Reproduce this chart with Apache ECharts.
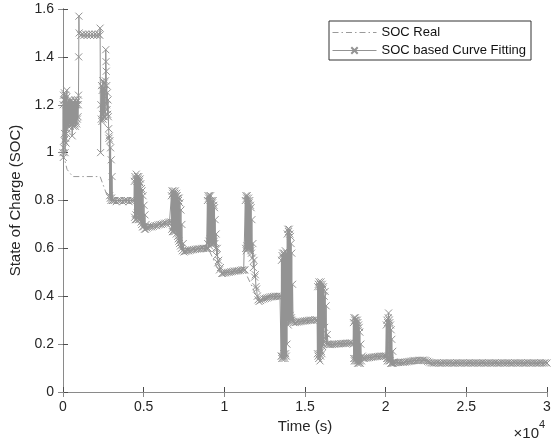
<!DOCTYPE html>
<html>
<head>
<meta charset="utf-8">
<script src="https://cdn.jsdelivr.net/npm/echarts@6/dist/echarts.min.js"></script>
<style>
  html, body { margin: 0; padding: 0; background: #fff; }
  #chart { width: 558px; height: 446px; }
</style>
</head>
<body>
<div id="chart"></div>
<script>
// time (s), SOC
var realCurve = [[0,1.0],[250,0.93],[600,0.9],[2300,0.9],[2600,0.845],[2850,0.8],[4500,0.8],[4900,0.7],[6800,0.7],[7400,0.6],
	[9000,0.6],[9700,0.5],[11300,0.5],[12000,0.4],[13500,0.4],[14300,0.3],[15800,0.3],[16400,0.2],[18000,0.2],[18600,0.15],
	[20100,0.15],[20500,0.12],[30000,0.12]];

// first charge part, up to the 0.8 step
var fitRise = [[0,1.00],[10,1.20],[20,0.98],[30,1.24],[40,1.02],[55,1.22],[70,1.05],[85,1.25],[100,1.08],[115,1.22],[130,1.00],
	[145,1.24],[160,1.06],[175,1.20],[190,1.04],[205,1.23],[220,1.08],[235,1.26],[250,1.10],[270,1.21],[290,1.12],[310,1.20],
	[330,1.11],[350,1.22],[370,1.13],[390,1.19],[410,1.12],[430,1.21],[450,1.11],[470,1.20],[490,1.13],[510,1.22],[530,1.12],
	[550,1.20],[570,1.07],[590,1.21],[610,1.12],[630,1.19],[650,1.11],[670,1.21],[690,1.13],[710,1.20],[730,1.12],[750,1.22],
	[770,1.11],[790,1.20],[810,1.13],[830,1.21],[850,1.12],[870,1.20],[890,1.14],[910,1.22],[930,1.15],[950,1.20],[960,1.24],
	[975,1.40],[985,1.57],[1000,1.50],[1100,1.49],[1200,1.495],[1300,1.49],[1400,1.495],[1500,1.49],[1600,1.495],[1700,1.49],
	[1800,1.495],[1900,1.49],[2000,1.495],[2100,1.49],[2200,1.495],[2280,1.49],[2300,1.52],[2330,1.00],[2350,1.20],[2370,1.14],
	[2390,1.28],[2410,1.13],[2430,1.26],[2450,1.16],[2470,1.30],[2490,1.14],[2510,1.27],[2530,1.15],[2550,1.29],[2570,1.17],
	[2590,1.26],[2610,1.15],[2630,1.30],[2650,1.43],[2665,1.38],[2680,1.34],[2695,1.20],[2710,1.28],[2730,1.18],[2750,1.25],
	[2770,1.16],[2790,1.22],[2810,1.15],[2830,1.10],[2850,1.06],[2870,1.07],[2890,0.82],[2910,1.05],[2930,0.81],[2950,1.02],
	[2970,0.80],[2990,0.97],[3010,0.81],[3040,0.90],[3070,0.80],[3100,0.80]];

// 0.8 -> 0.5 steps
var fitSteps1 = [[3200,0.80],[3300,0.795],[3400,0.80],[3500,0.80],[3600,0.80],[3700,0.795],[3800,0.80],[3900,0.80],[4000,0.80],
	[4100,0.795],[4200,0.80],[4300,0.80],[4400,0.80],[4420,0.88],[4440,0.73],[4460,0.90],[4480,0.72],[4500,0.89],[4520,0.74],
	[4540,0.91],[4560,0.72],[4580,0.88],[4600,0.75],[4620,0.90],[4640,0.73],[4660,0.89],[4680,0.72],[4700,0.90],[4720,0.74],
	[4740,0.88],[4760,0.72],[4780,0.89],[4800,0.73],[4820,0.87],[4840,0.71],[4860,0.85],[4880,0.70],[4900,0.84],[4930,0.69],
	[4960,0.82],[4990,0.69],[5020,0.78],[5050,0.68],[5080,0.74],[5110,0.68],[5150,0.70],[5200,0.685],[5300,0.688],[5400,0.69],
	[5500,0.69],[5600,0.692],[5700,0.695],[5800,0.695],[5900,0.698],[6000,0.70],[6100,0.70],[6200,0.702],[6300,0.705],
	[6400,0.705],[6500,0.708],[6600,0.71],[6700,0.71],[6720,0.82],[6740,0.68],[6760,0.84],[6780,0.67],[6800,0.83],[6820,0.69],
	[6840,0.84],[6860,0.67],[6880,0.82],[6900,0.68],[6920,0.83],[6940,0.67],[6960,0.84],[6980,0.69],[7000,0.82],[7020,0.66],
	[7040,0.83],[7060,0.68],[7080,0.82],[7100,0.65],[7120,0.81],[7140,0.64],[7160,0.80],[7180,0.63],[7200,0.81],[7220,0.62],
	[7250,0.79],[7280,0.61],[7310,0.76],[7340,0.60],[7370,0.70],[7400,0.59],[7450,0.62],[7500,0.585],[7560,0.59],[7600,0.588],
	[7700,0.59],[7800,0.59],[7900,0.592],[8000,0.594],[8100,0.595],[8200,0.596],[8300,0.597],[8400,0.598],[8500,0.598],
	[8600,0.60],[8700,0.60],[8800,0.60],[8900,0.60],[8930,0.60],[8950,0.80],[8970,0.62],[8990,0.82],[9010,0.60],[9030,0.81],
	[9050,0.63],[9070,0.82],[9090,0.61],[9110,0.80],[9130,0.64],[9150,0.82],[9170,0.62],[9190,0.79],[9210,0.63],[9230,0.80],
	[9250,0.62],[9270,0.79],[9290,0.64],[9310,0.80],[9330,0.62],[9350,0.78],[9370,0.63],[9390,0.77],[9410,0.62],[9430,0.72],
	[9460,0.60],[9490,0.66],[9520,0.57],[9560,0.60],[9600,0.54],[9650,0.55],[9700,0.51],[9760,0.52],[9840,0.495]];

// 0.5 -> 0.2 steps
var fitSteps2 = [[9900,0.495],[10000,0.497],[10100,0.498],[10200,0.50],[10300,0.50],[10400,0.502],[10500,0.503],[10600,0.505],
	[10700,0.505],[10800,0.506],[10900,0.507],[11000,0.508],[11100,0.51],[11200,0.51],[11280,0.51],[11300,0.80],[11320,0.60],
	[11340,0.82],[11360,0.59],[11380,0.81],[11400,0.61],[11420,0.82],[11440,0.60],[11460,0.80],[11480,0.62],[11500,0.81],
	[11520,0.60],[11540,0.79],[11560,0.61],[11580,0.80],[11600,0.60],[11620,0.78],[11640,0.59],[11660,0.77],[11680,0.58],
	[11710,0.72],[11740,0.56],[11770,0.62],[11800,0.52],[11840,0.55],[11880,0.48],[11920,0.49],[11960,0.44],[12000,0.43],
	[12040,0.40],[12090,0.385],[12150,0.378],[12250,0.382],[12350,0.386],[12450,0.389],[12550,0.391],[12650,0.393],
	[12750,0.395],[12850,0.397],[12950,0.398],[13050,0.399],[13150,0.40],[13250,0.40],[13350,0.40],[13450,0.40],[13500,0.40],
	[13520,0.15],[13540,0.55],[13560,0.14],[13580,0.57],[13600,0.15],[13620,0.58],[13640,0.14],[13660,0.56],[13680,0.16],
	[13700,0.58],[13720,0.15],[13740,0.57],[13760,0.14],[13780,0.59],[13800,0.16],[13820,0.56],[13840,0.15],[13860,0.58],
	[13880,0.20],[13900,0.66],[13920,0.30],[13940,0.68],[13960,0.28],[13980,0.67],[14000,0.31],[14020,0.68],[14040,0.30],
	[14060,0.66],[14080,0.32],[14100,0.65],[14120,0.30],[14140,0.62],[14160,0.31],[14180,0.58],[14200,0.30],[14230,0.45],
	[14260,0.295],[14300,0.29],[14400,0.29],[14500,0.292],[14600,0.293],[14700,0.294],[14800,0.295],[14900,0.296],[15000,0.297],
	[15100,0.298],[15200,0.299],[15300,0.30],[15400,0.30],[15500,0.30],[15600,0.302],[15700,0.302],[15750,0.30],[15770,0.16],
	[15790,0.44],[15810,0.15],[15830,0.45],[15850,0.14],[15870,0.46],[15890,0.16],[15910,0.44],[15930,0.13],[15950,0.45],
	[15970,0.15],[15990,0.46],[16010,0.17],[16030,0.44],[16050,0.16],[16070,0.45],[16090,0.19],[16110,0.43],[16130,0.20],
	[16150,0.44],[16170,0.21],[16190,0.40],[16220,0.27],[16250,0.42],[16280,0.22],[16310,0.36],[16340,0.20],[16380,0.24],
	[16430,0.20]];

// 0.2 -> 0.12 steps
var fitSteps3 = [[16500,0.198],[16600,0.198],[16700,0.199],[16800,0.20],[16900,0.20],[17000,0.201],[17100,0.201],[17200,0.202],
	[17300,0.202],[17400,0.203],[17500,0.203],[17600,0.204],[17700,0.204],[17800,0.205],[17900,0.205],[17980,0.20],[18000,0.29],
	[18020,0.14],[18040,0.31],[18060,0.13],[18080,0.30],[18100,0.14],[18120,0.31],[18140,0.13],[18160,0.30],[18180,0.14],
	[18200,0.29],[18220,0.13],[18240,0.30],[18260,0.12],[18280,0.29],[18300,0.13],[18320,0.28],[18340,0.12],[18360,0.27],
	[18380,0.13],[18400,0.25],[18430,0.12],[18460,0.20],[18500,0.13],[18550,0.15],[18600,0.14],[18700,0.14],[18800,0.142],
	[18900,0.143],[19000,0.144],[19100,0.145],[19200,0.146],[19300,0.147],[19400,0.148],[19500,0.148],[19600,0.149],
	[19700,0.15],[19800,0.15],[19900,0.15],[20000,0.15],[20020,0.15],[20040,0.28],[20060,0.14],[20080,0.30],[20100,0.13],
	[20120,0.29],[20140,0.14],[20160,0.31],[20180,0.33],[20200,0.13],[20220,0.30],[20240,0.14],[20260,0.29],[20280,0.13],
	[20300,0.28],[20320,0.12],[20340,0.26],[20360,0.12],[20380,0.22],[20410,0.12],[20440,0.17],[20480,0.12],[20520,0.125]];

// long flat tail
var fitTail = [[20600,0.122],[20700,0.123],[20800,0.123],[20900,0.124],[21000,0.124],[21100,0.124],[21200,0.125],[21300,0.126],
	[21400,0.127],[21500,0.128],[21600,0.129],[21700,0.131],[21800,0.132],[21900,0.131],[22000,0.132],[22100,0.133],
	[22200,0.132],[22300,0.133],[22400,0.133],[22500,0.131],[22600,0.128],[22700,0.125],[22800,0.122],[22900,0.121],
	[23000,0.121],[23100,0.121],[23200,0.122],[23300,0.121],[23400,0.121],[23500,0.121],[23600,0.122],[23700,0.121],
	[23800,0.121],[23900,0.121],[24000,0.122],[24100,0.121],[24200,0.121],[24300,0.121],[24400,0.122],[24500,0.121],
	[24600,0.121],[24700,0.121],[24800,0.122],[24900,0.121],[25000,0.121],[25100,0.121],[25200,0.122],[25300,0.121],
	[25400,0.121],[25500,0.121],[25600,0.122],[25700,0.121],[25800,0.121],[25900,0.121],[26000,0.122],[26100,0.121],
	[26200,0.121],[26300,0.121],[26400,0.122],[26500,0.121],[26600,0.121],[26700,0.121],[26800,0.122],[26900,0.121],
	[27000,0.121],[27100,0.121],[27200,0.122],[27300,0.121],[27400,0.121],[27500,0.121],[27600,0.122],[27700,0.121],
	[27800,0.121],[27900,0.121],[28000,0.122],[28100,0.121],[28200,0.121],[28300,0.121],[28400,0.122],[28500,0.121],
	[28600,0.121],[28700,0.121],[28800,0.122],[28900,0.121],[29000,0.121],[29100,0.121],[29200,0.122],[29300,0.121],
	[29400,0.121],[29500,0.121],[29600,0.122],[29700,0.121],[29800,0.121],[29900,0.122],[30000,0.121]];

var seriesNames = ['SOC Real', 'SOC based Curve Fitting'];
var xTickLabels = ['0', '0.5', '1', '1.5', '2', '2.5', '3'];

var fitCurve = fitRise.concat(fitSteps1, fitSteps2, fitSteps3, fitTail);

var fontFam = '"Liberation Sans", Arial, Helvetica, sans-serif';
var xMark = 'path://M0,0L10,10M10,0L0,10';
// dash-dot sample for the legend (44 x 8 box, tiny corner dots keep the box size)
var dashDotIcon = 'path://M0,0h0.01v0.01h-0.01zM44,8h-0.01v-0.01h0.01z' +
	'M0,3.5h6v1h-6zM9,3.5h1.5v1h-1.5zM13.5,3.5h6v1h-6zM22.5,3.5h1.5v1h-1.5z' +
	'M27,3.5h6v1h-6zM36,3.5h1.5v1h-1.5zM40.5,3.5h3.5v1h-3.5z';

var myChart = echarts.init(document.getElementById('chart'));

var option = {
	animation: false,
	backgroundColor: '#fff',
	grid: { left: 63, right: 11, top: 9, bottom: 54 },
	legend: {
		orient: 'vertical',
		left: 329,
		top: 21,
		padding: [5, 5, 3, 3],
		itemGap: 5,
		itemWidth: 44,
		itemHeight: 8,
		borderColor: '#333',
		borderWidth: 1,
		backgroundColor: '#fff',
		textStyle: { fontSize: 13, color: '#111', fontFamily: fontFam },
		data: [
			{ name: seriesNames[0], icon: dashDotIcon },
			{ name: seriesNames[1], lineStyle: { width: 1 } }
		]
	},
	xAxis: [{
		type: 'value',
		min: 0, max: 30000, interval: 5000,
		name: 'Time (s)',
		nameLocation: 'middle',
		nameGap: 20,
		nameTextStyle: { fontSize: 15, color: '#262626', fontFamily: fontFam },
		axisLine: { show: true, lineStyle: { color: '#4d4d4d', width: 1 } },
		axisTick: { inside: true, length: 5, lineStyle: { color: '#4d4d4d' } },
		axisLabel: {
			fontSize: 14, color: '#262626', fontFamily: fontFam, margin: 8,
			formatter: function (v) { return xTickLabels[Math.round(v / 5000)]; }
		},
		splitLine: { show: false }
	}, {
		type: 'value',
		position: 'top',
		min: 0, max: 30000, interval: 5000,
		axisLine: { show: true, lineStyle: { color: '#8a8a8a', width: 1 } },
		axisTick: { inside: true, length: 5, lineStyle: { color: '#8a8a8a' } },
		axisLabel: { show: false },
		splitLine: { show: false }
	}],
	yAxis: [{
		type: 'value',
		min: 0, max: 1.6, interval: 0.2,
		name: 'State of Charge (SOC)',
		nameLocation: 'middle',
		nameGap: 30,
		nameTextStyle: { fontSize: 15, color: '#262626', fontFamily: fontFam },
		axisLine: { show: true, lineStyle: { color: '#4d4d4d', width: 1 } },
		axisTick: { show: true, inside: true, length: 5, lineStyle: { color: '#4d4d4d' } },
		axisLabel: { fontSize: 14, color: '#262626', fontFamily: fontFam, margin: 9 },
		splitLine: { show: false }
	}, {
		type: 'value',
		position: 'right',
		min: 0, max: 1.6, interval: 0.2,
		axisLine: { show: true, lineStyle: { color: '#8a8a8a', width: 1 } },
		axisTick: { show: true, inside: true, length: 5, lineStyle: { color: '#8a8a8a' } },
		axisLabel: { show: false },
		splitLine: { show: false }
	}],
	graphic: [{
		type: 'text',
		x: 539, y: 434,
		style: { text: '\u00d710', fill: '#262626', font: '15px ' + fontFam, textAlign: 'right', textVerticalAlign: 'middle' }
	}, {
		type: 'text',
		x: 539, y: 425,
		style: { text: '4', fill: '#262626', font: '11px ' + fontFam, textAlign: 'left', textVerticalAlign: 'middle' }
	}],
	series: [{
		name: seriesNames[0],
		type: 'line',
		data: realCurve,
		symbol: 'none',
		silent: true,
		itemStyle: { color: '#9a9a9a' },
		lineStyle: { color: '#9a9a9a', width: 1, type: [6, 3, 1.5, 3] }
	}, {
		name: seriesNames[1],
		type: 'line',
		data: fitCurve,
		symbol: xMark,
		symbolSize: 7,
		showAllSymbol: true,
		silent: true,
		itemStyle: { color: '#939393', borderColor: '#939393', borderWidth: 1 },
		lineStyle: { color: '#939393', width: 1 }
	}]
};

myChart.setOption(option);
</script>
</body>
</html>
